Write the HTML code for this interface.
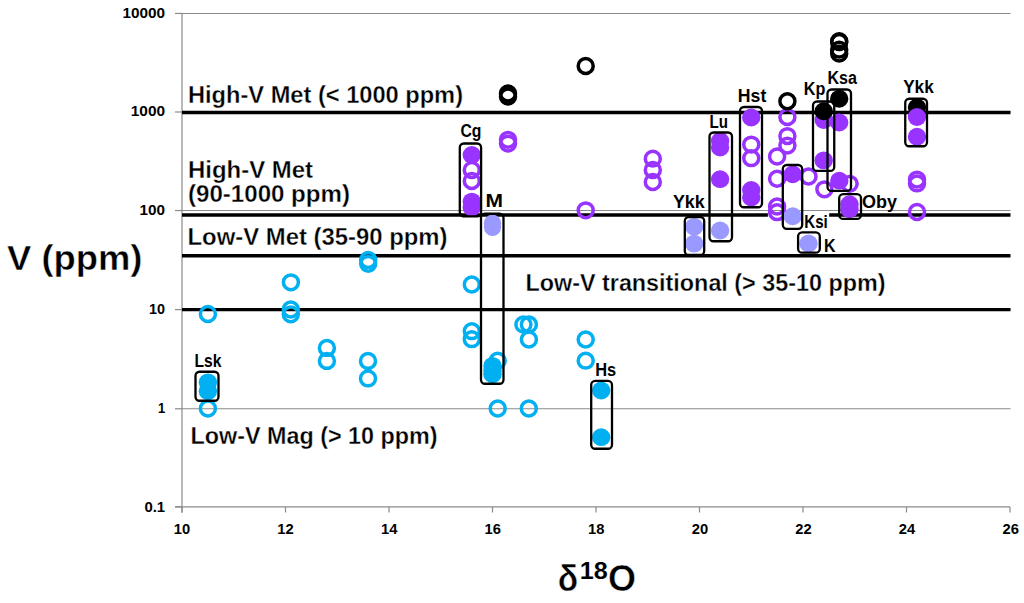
<!DOCTYPE html>
<html><head><meta charset="utf-8"><title>V vs d18O</title>
<style>
html,body{margin:0;padding:0;background:#fff;}
body{width:1024px;height:603px;overflow:hidden;position:relative;font-family:"Liberation Sans",sans-serif;}
</style></head><body>
<svg width="1024" height="603" viewBox="0 0 1024 603" style="position:absolute;left:0;top:0">
<rect width="1024" height="603" fill="#fff"/>
<line x1="182" y1="13.45" x2="1010.5" y2="13.45" stroke="#8a8a8a" stroke-width="1.1"/>
<line x1="182" y1="112.0" x2="1010.5" y2="112.0" stroke="#8a8a8a" stroke-width="1.1"/>
<line x1="182" y1="210.55" x2="1010.5" y2="210.55" stroke="#8a8a8a" stroke-width="1.1"/>
<line x1="182" y1="309.6" x2="1010.5" y2="309.6" stroke="#8a8a8a" stroke-width="1.1"/>
<line x1="182" y1="408.8" x2="1010.5" y2="408.8" stroke="#8a8a8a" stroke-width="1.1"/>
<line x1="182" y1="13" x2="182" y2="512.8" stroke="#8a8a8a" stroke-width="1.2"/>
<line x1="175" y1="506.8" x2="1010" y2="506.8" stroke="#8a8a8a" stroke-width="1.2"/>
<line x1="175" y1="13.45" x2="182" y2="13.45" stroke="#8a8a8a" stroke-width="1.2"/>
<line x1="175" y1="112.0" x2="182" y2="112.0" stroke="#8a8a8a" stroke-width="1.2"/>
<line x1="175" y1="210.55" x2="182" y2="210.55" stroke="#8a8a8a" stroke-width="1.2"/>
<line x1="175" y1="309.6" x2="182" y2="309.6" stroke="#8a8a8a" stroke-width="1.2"/>
<line x1="175" y1="408.8" x2="182" y2="408.8" stroke="#8a8a8a" stroke-width="1.2"/>
<line x1="175" y1="506.8" x2="182" y2="506.8" stroke="#8a8a8a" stroke-width="1.2"/>
<line x1="182.0" y1="507" x2="182.0" y2="512.5" stroke="#8a8a8a" stroke-width="1.2"/>
<line x1="285.5" y1="507" x2="285.5" y2="512.5" stroke="#8a8a8a" stroke-width="1.2"/>
<line x1="389.0" y1="507" x2="389.0" y2="512.5" stroke="#8a8a8a" stroke-width="1.2"/>
<line x1="492.5" y1="507" x2="492.5" y2="512.5" stroke="#8a8a8a" stroke-width="1.2"/>
<line x1="596.0" y1="507" x2="596.0" y2="512.5" stroke="#8a8a8a" stroke-width="1.2"/>
<line x1="699.5" y1="507" x2="699.5" y2="512.5" stroke="#8a8a8a" stroke-width="1.2"/>
<line x1="803.0" y1="507" x2="803.0" y2="512.5" stroke="#8a8a8a" stroke-width="1.2"/>
<line x1="906.5" y1="507" x2="906.5" y2="512.5" stroke="#8a8a8a" stroke-width="1.2"/>
<line x1="1010.0" y1="507" x2="1010.0" y2="512.5" stroke="#8a8a8a" stroke-width="1.2"/>
<line x1="182" y1="112.5" x2="1010.5" y2="112.5" stroke="#000" stroke-width="3.4"/>
<line x1="182" y1="255.7" x2="1010.5" y2="255.7" stroke="#000" stroke-width="3.4"/>
<line x1="182" y1="309.6" x2="1010.5" y2="309.6" stroke="#000" stroke-width="3.4"/>
<line x1="182" y1="215" x2="767.9" y2="215" stroke="#000" stroke-width="3.4"/>
<line x1="829.2" y1="215" x2="1010.5" y2="215" stroke="#000" stroke-width="3.4"/>
<ellipse cx="207.9" cy="314" rx="7.5" ry="7.4" fill="none" stroke="#00b0f0" stroke-width="3.5"/>
<ellipse cx="207.9" cy="408.5" rx="7.5" ry="7.4" fill="none" stroke="#00b0f0" stroke-width="3.5"/>
<ellipse cx="290.9" cy="282.3" rx="7.5" ry="7.4" fill="none" stroke="#00b0f0" stroke-width="3.5"/>
<ellipse cx="290.8" cy="309.5" rx="7.5" ry="7.4" fill="none" stroke="#00b0f0" stroke-width="3.5"/>
<ellipse cx="290.8" cy="314.3" rx="7.5" ry="7.4" fill="none" stroke="#00b0f0" stroke-width="3.5"/>
<ellipse cx="326.9" cy="347.9" rx="7.5" ry="7.4" fill="none" stroke="#00b0f0" stroke-width="3.5"/>
<ellipse cx="326.9" cy="360.9" rx="7.5" ry="7.4" fill="none" stroke="#00b0f0" stroke-width="3.5"/>
<ellipse cx="368.2" cy="260" rx="7.5" ry="7.4" fill="none" stroke="#00b0f0" stroke-width="3.5"/>
<ellipse cx="368.2" cy="263.8" rx="7.5" ry="7.4" fill="none" stroke="#00b0f0" stroke-width="3.5"/>
<ellipse cx="368.0" cy="360.9" rx="7.5" ry="7.4" fill="none" stroke="#00b0f0" stroke-width="3.5"/>
<ellipse cx="368.0" cy="378.4" rx="7.5" ry="7.4" fill="none" stroke="#00b0f0" stroke-width="3.5"/>
<ellipse cx="471.8" cy="284.5" rx="7.5" ry="7.4" fill="none" stroke="#00b0f0" stroke-width="3.5"/>
<ellipse cx="471.8" cy="331.2" rx="7.5" ry="7.4" fill="none" stroke="#00b0f0" stroke-width="3.5"/>
<ellipse cx="471.8" cy="339.2" rx="7.5" ry="7.4" fill="none" stroke="#00b0f0" stroke-width="3.5"/>
<ellipse cx="497.7" cy="360.7" rx="7.5" ry="7.4" fill="none" stroke="#00b0f0" stroke-width="3.5"/>
<ellipse cx="497.7" cy="408.5" rx="7.5" ry="7.4" fill="none" stroke="#00b0f0" stroke-width="3.5"/>
<ellipse cx="523.4" cy="324.5" rx="7.5" ry="7.4" fill="none" stroke="#00b0f0" stroke-width="3.5"/>
<ellipse cx="528.9" cy="324.5" rx="7.5" ry="7.4" fill="none" stroke="#00b0f0" stroke-width="3.5"/>
<ellipse cx="528.9" cy="339.5" rx="7.5" ry="7.4" fill="none" stroke="#00b0f0" stroke-width="3.5"/>
<ellipse cx="528.8" cy="408.5" rx="7.5" ry="7.4" fill="none" stroke="#00b0f0" stroke-width="3.5"/>
<ellipse cx="585.7" cy="339.5" rx="7.5" ry="7.4" fill="none" stroke="#00b0f0" stroke-width="3.5"/>
<ellipse cx="585.7" cy="360.7" rx="7.5" ry="7.4" fill="none" stroke="#00b0f0" stroke-width="3.5"/>
<ellipse cx="207.9" cy="382.3" rx="9.2" ry="8.9" fill="#00b0f0"/>
<ellipse cx="207.9" cy="391.3" rx="9.2" ry="8.9" fill="#00b0f0"/>
<ellipse cx="492.5" cy="365.8" rx="9.2" ry="8.9" fill="#00b0f0"/>
<ellipse cx="492.5" cy="370.4" rx="9.2" ry="8.9" fill="#00b0f0"/>
<ellipse cx="492.5" cy="374.3" rx="9.2" ry="8.9" fill="#00b0f0"/>
<ellipse cx="601.2" cy="390.5" rx="9.2" ry="8.9" fill="#00b0f0"/>
<ellipse cx="601.2" cy="437.2" rx="9.2" ry="8.9" fill="#00b0f0"/>
<ellipse cx="471.8" cy="155" rx="9.2" ry="8.9" fill="#9933ff"/>
<ellipse cx="471.8" cy="201.6" rx="9.2" ry="8.9" fill="#9933ff"/>
<ellipse cx="471.8" cy="207.4" rx="9.2" ry="8.9" fill="#9933ff"/>
<ellipse cx="720.1" cy="141" rx="9.2" ry="8.9" fill="#9933ff"/>
<ellipse cx="720.1" cy="147.5" rx="9.2" ry="8.9" fill="#9933ff"/>
<ellipse cx="720.1" cy="179.2" rx="9.2" ry="8.9" fill="#9933ff"/>
<ellipse cx="751.25" cy="117.5" rx="9.2" ry="8.9" fill="#9933ff"/>
<ellipse cx="751.25" cy="190" rx="9.2" ry="8.9" fill="#9933ff"/>
<ellipse cx="751.25" cy="197.5" rx="9.2" ry="8.9" fill="#9933ff"/>
<ellipse cx="792.7" cy="174.3" rx="9.2" ry="8.9" fill="#9933ff"/>
<ellipse cx="823.7" cy="120" rx="9.2" ry="8.9" fill="#9933ff"/>
<ellipse cx="823.7" cy="160.4" rx="9.2" ry="8.9" fill="#9933ff"/>
<ellipse cx="839.2" cy="122.5" rx="9.2" ry="8.9" fill="#9933ff"/>
<ellipse cx="839.3" cy="180.7" rx="9.2" ry="8.9" fill="#9933ff"/>
<ellipse cx="849.5" cy="204.2" rx="9.2" ry="8.9" fill="#9933ff"/>
<ellipse cx="849.5" cy="209.2" rx="9.2" ry="8.9" fill="#9933ff"/>
<ellipse cx="508" cy="139.8" rx="7.5" ry="7.4" fill="none" stroke="#9933ff" stroke-width="3.5"/>
<ellipse cx="508" cy="143.6" rx="7.5" ry="7.4" fill="none" stroke="#9933ff" stroke-width="3.5"/>
<ellipse cx="585.7" cy="210.3" rx="7.5" ry="7.4" fill="none" stroke="#9933ff" stroke-width="3.5"/>
<ellipse cx="652.8" cy="158.7" rx="7.5" ry="7.4" fill="none" stroke="#9933ff" stroke-width="3.5"/>
<ellipse cx="652.8" cy="170" rx="7.5" ry="7.4" fill="none" stroke="#9933ff" stroke-width="3.5"/>
<ellipse cx="652.8" cy="182" rx="7.5" ry="7.4" fill="none" stroke="#9933ff" stroke-width="3.5"/>
<ellipse cx="751.25" cy="144.6" rx="7.5" ry="7.4" fill="none" stroke="#9933ff" stroke-width="3.5"/>
<ellipse cx="751.25" cy="158.2" rx="7.5" ry="7.4" fill="none" stroke="#9933ff" stroke-width="3.5"/>
<ellipse cx="777.1" cy="156.5" rx="7.5" ry="7.4" fill="none" stroke="#9933ff" stroke-width="3.5"/>
<ellipse cx="777.1" cy="178.75" rx="7.5" ry="7.4" fill="none" stroke="#9933ff" stroke-width="3.5"/>
<ellipse cx="777.1" cy="206.5" rx="7.5" ry="7.4" fill="none" stroke="#9933ff" stroke-width="3.5"/>
<ellipse cx="777.1" cy="212.2" rx="7.5" ry="7.4" fill="none" stroke="#9933ff" stroke-width="3.5"/>
<ellipse cx="787.4" cy="117" rx="7.5" ry="7.4" fill="none" stroke="#9933ff" stroke-width="3.5"/>
<ellipse cx="787.4" cy="136.1" rx="7.5" ry="7.4" fill="none" stroke="#9933ff" stroke-width="3.5"/>
<ellipse cx="787.4" cy="145.6" rx="7.5" ry="7.4" fill="none" stroke="#9933ff" stroke-width="3.5"/>
<ellipse cx="808.5" cy="176.5" rx="7.5" ry="7.4" fill="none" stroke="#9933ff" stroke-width="3.5"/>
<ellipse cx="824.4" cy="189.3" rx="7.5" ry="7.4" fill="none" stroke="#9933ff" stroke-width="3.5"/>
<ellipse cx="849.6" cy="183.8" rx="7.5" ry="7.4" fill="none" stroke="#9933ff" stroke-width="3.5"/>
<ellipse cx="917.0" cy="179.6" rx="7.5" ry="7.4" fill="none" stroke="#9933ff" stroke-width="3.5"/>
<ellipse cx="917.0" cy="183.4" rx="7.5" ry="7.4" fill="none" stroke="#9933ff" stroke-width="3.5"/>
<ellipse cx="917.0" cy="212" rx="7.5" ry="7.4" fill="none" stroke="#9933ff" stroke-width="3.5"/>
<ellipse cx="471.8" cy="170" rx="7.5" ry="7.4" fill="none" stroke="#9933ff" stroke-width="3.5"/>
<ellipse cx="471.8" cy="181" rx="7.5" ry="7.4" fill="none" stroke="#9933ff" stroke-width="3.5"/>
<ellipse cx="492.5" cy="223.3" rx="8.6" ry="8.9" fill="#9999ff"/>
<ellipse cx="492.5" cy="227.2" rx="8.6" ry="8.9" fill="#9999ff"/>
<ellipse cx="694.2" cy="226.8" rx="9.2" ry="8.9" fill="#9999ff"/>
<ellipse cx="694.2" cy="243.6" rx="9.2" ry="8.9" fill="#9999ff"/>
<ellipse cx="720.1" cy="230.5" rx="9.2" ry="8.9" fill="#9999ff"/>
<ellipse cx="792.7" cy="216.25" rx="9.2" ry="8.9" fill="#9999ff"/>
<ellipse cx="808.5" cy="243.5" rx="9.2" ry="8.9" fill="#9999ff"/>
<ellipse cx="508" cy="93.5" rx="7.5" ry="7.4" fill="none" stroke="#000" stroke-width="3.5"/>
<ellipse cx="508" cy="96.5" rx="7.5" ry="7.4" fill="none" stroke="#000" stroke-width="3.5"/>
<ellipse cx="585.7" cy="66" rx="7.5" ry="7.4" fill="none" stroke="#000" stroke-width="3.5"/>
<ellipse cx="787.4" cy="101.25" rx="7.5" ry="7.4" fill="none" stroke="#000" stroke-width="3.5"/>
<ellipse cx="839.2" cy="41.2" rx="7.5" ry="7.4" fill="none" stroke="#000" stroke-width="3.5"/>
<ellipse cx="839.2" cy="42.0" rx="7.5" ry="7.4" fill="none" stroke="#000" stroke-width="3.5"/>
<ellipse cx="839.2" cy="49.7" rx="7.5" ry="7.4" fill="none" stroke="#000" stroke-width="3.5"/>
<ellipse cx="839.2" cy="53.6" rx="7.5" ry="7.4" fill="none" stroke="#000" stroke-width="3.5"/>
<ellipse cx="839.2" cy="98.75" rx="9.2" ry="8.9" fill="#000"/>
<ellipse cx="823.7" cy="111.25" rx="9.2" ry="8.9" fill="#000"/>
<ellipse cx="917.0" cy="107.5" rx="9.2" ry="8.9" fill="#000"/>
<ellipse cx="917.0" cy="117" rx="9.2" ry="8.9" fill="#9933ff"/>
<ellipse cx="917.0" cy="136.75" rx="9.2" ry="8.9" fill="#9933ff"/>
<rect x="195.5" y="371.75" width="23.0" height="29.0" rx="4" ry="4" fill="none" stroke="#000" stroke-width="2.3"/>
<rect x="459.8" y="143.5" width="21.30000000000001" height="72.80000000000001" rx="4" ry="4" fill="none" stroke="#000" stroke-width="2.3"/>
<rect x="481" y="213.75" width="22.5" height="170.0" rx="4" ry="4" fill="none" stroke="#000" stroke-width="2.3"/>
<rect x="591.2" y="380.9" width="20.799999999999955" height="67.85000000000002" rx="4" ry="4" fill="none" stroke="#000" stroke-width="2.3"/>
<rect x="684.8" y="217" width="19.40000000000009" height="38" rx="4" ry="4" fill="none" stroke="#000" stroke-width="2.3"/>
<rect x="709.5" y="132.5" width="22.5" height="108.75" rx="4" ry="4" fill="none" stroke="#000" stroke-width="2.3"/>
<rect x="740" y="107" width="22" height="100.25" rx="4" ry="4" fill="none" stroke="#000" stroke-width="2.3"/>
<rect x="782.8" y="165" width="19.40000000000009" height="63.80000000000001" rx="4" ry="4" fill="none" stroke="#000" stroke-width="2.3"/>
<rect x="798.1" y="232.3" width="21.699999999999932" height="20.399999999999977" rx="4" ry="4" fill="none" stroke="#000" stroke-width="2.3"/>
<rect x="813" y="101.5" width="21.25" height="69.4" rx="4" ry="4" fill="none" stroke="#000" stroke-width="2.3"/>
<rect x="827.5" y="89.5" width="23.5" height="101.4" rx="4" ry="4" fill="none" stroke="#000" stroke-width="2.3"/>
<rect x="839.2" y="194.1" width="21.799999999999955" height="24.80000000000001" rx="4" ry="4" fill="none" stroke="#000" stroke-width="2.3"/>
<rect x="905.25" y="98.75" width="21.75" height="47.5" rx="4" ry="4" fill="none" stroke="#000" stroke-width="2.3"/>
<g font-family="Liberation Sans, sans-serif" fill="#000">
<text x="122.5" y="18.4" font-size="14.5" font-weight="bold" text-anchor="start" textLength="42.6" lengthAdjust="spacingAndGlyphs" stroke="#fff" stroke-width="0.0">10000</text>
<text x="130.8" y="116.3" font-size="14.5" font-weight="bold" text-anchor="start" textLength="34.3" lengthAdjust="spacingAndGlyphs" stroke="#fff" stroke-width="0.0">1000</text>
<text x="139.6" y="215.4" font-size="14.5" font-weight="bold" text-anchor="start" textLength="25.5" lengthAdjust="spacingAndGlyphs" stroke="#fff" stroke-width="0.0">100</text>
<text x="149.1" y="314.4" font-size="14.5" font-weight="bold" text-anchor="start" textLength="16" lengthAdjust="spacingAndGlyphs" stroke="#fff" stroke-width="0.0">10</text>
<text x="157.9" y="412.5" font-size="14.5" font-weight="bold" text-anchor="start" textLength="7.2" lengthAdjust="spacingAndGlyphs" stroke="#fff" stroke-width="0.0">1</text>
<text x="144.4" y="511.5" font-size="14.5" font-weight="bold" text-anchor="start" textLength="20.7" lengthAdjust="spacingAndGlyphs" stroke="#fff" stroke-width="0.0">0.1</text>
<text x="173.8" y="534.4" font-size="14.5" font-weight="bold" text-anchor="start" textLength="16.4" lengthAdjust="spacingAndGlyphs" stroke="#fff" stroke-width="0.0">10</text>
<text x="277.38" y="534.4" font-size="14.5" font-weight="bold" text-anchor="start" textLength="16.4" lengthAdjust="spacingAndGlyphs" stroke="#fff" stroke-width="0.0">12</text>
<text x="380.96000000000004" y="534.4" font-size="14.5" font-weight="bold" text-anchor="start" textLength="16.4" lengthAdjust="spacingAndGlyphs" stroke="#fff" stroke-width="0.0">14</text>
<text x="484.54" y="534.4" font-size="14.5" font-weight="bold" text-anchor="start" textLength="16.4" lengthAdjust="spacingAndGlyphs" stroke="#fff" stroke-width="0.0">16</text>
<text x="588.12" y="534.4" font-size="14.5" font-weight="bold" text-anchor="start" textLength="16.4" lengthAdjust="spacingAndGlyphs" stroke="#fff" stroke-width="0.0">18</text>
<text x="691.6999999999999" y="534.4" font-size="14.5" font-weight="bold" text-anchor="start" textLength="16.4" lengthAdjust="spacingAndGlyphs" stroke="#fff" stroke-width="0.0">20</text>
<text x="795.28" y="534.4" font-size="14.5" font-weight="bold" text-anchor="start" textLength="16.4" lengthAdjust="spacingAndGlyphs" stroke="#fff" stroke-width="0.0">22</text>
<text x="898.8599999999999" y="534.4" font-size="14.5" font-weight="bold" text-anchor="start" textLength="16.4" lengthAdjust="spacingAndGlyphs" stroke="#fff" stroke-width="0.0">24</text>
<text x="1002.4399999999999" y="534.4" font-size="14.5" font-weight="bold" text-anchor="start" textLength="16.4" lengthAdjust="spacingAndGlyphs" stroke="#fff" stroke-width="0.0">26</text>
<text x="188" y="102.5" font-size="23.8" font-weight="bold" text-anchor="start" textLength="275" lengthAdjust="spacingAndGlyphs" stroke="#fff" stroke-width="0.33">High-V Met (&lt; 1000 ppm)</text>
<text x="188" y="177.5" font-size="23.8" font-weight="bold" text-anchor="start" textLength="125" lengthAdjust="spacingAndGlyphs" stroke="#fff" stroke-width="0.33">High-V Met</text>
<text x="188" y="202" font-size="23.8" font-weight="bold" text-anchor="start" textLength="162" lengthAdjust="spacingAndGlyphs" stroke="#fff" stroke-width="0.33">(90-1000 ppm)</text>
<text x="187.5" y="245" font-size="23.8" font-weight="bold" text-anchor="start" textLength="260" lengthAdjust="spacingAndGlyphs" stroke="#fff" stroke-width="0.33">Low-V Met (35-90 ppm)</text>
<text x="525.5" y="291" font-size="23.8" font-weight="bold" text-anchor="start" textLength="360" lengthAdjust="spacingAndGlyphs" stroke="#fff" stroke-width="0.33">Low-V transitional (&gt; 35-10 ppm)</text>
<text x="190.5" y="443.7" font-size="23.8" font-weight="bold" text-anchor="start" textLength="247" lengthAdjust="spacingAndGlyphs" stroke="#fff" stroke-width="0.33">Low-V Mag (&gt; 10 ppm)</text>
<text x="194.4" y="367.3" font-size="18.3" font-weight="bold" text-anchor="start" textLength="27" lengthAdjust="spacingAndGlyphs" stroke="#fff" stroke-width="0.0">Lsk</text>
<text x="460.5" y="136.6" font-size="18.3" font-weight="bold" text-anchor="start" textLength="21.0" lengthAdjust="spacingAndGlyphs" stroke="#fff" stroke-width="0.0">Cg</text>
<text x="485.5" y="206.6" font-size="18.3" font-weight="bold" text-anchor="start" textLength="17.5" lengthAdjust="spacingAndGlyphs" stroke="#fff" stroke-width="0.0">M</text>
<text x="595.2" y="376.1" font-size="18.3" font-weight="bold" text-anchor="start" textLength="21.0" lengthAdjust="spacingAndGlyphs" stroke="#fff" stroke-width="0.0">Hs</text>
<text x="672.9" y="208.1" font-size="18.3" font-weight="bold" text-anchor="start" textLength="31.8" lengthAdjust="spacingAndGlyphs" stroke="#fff" stroke-width="0.0">Ykk</text>
<text x="709.5" y="127.6" font-size="18.3" font-weight="bold" text-anchor="start" textLength="18.5" lengthAdjust="spacingAndGlyphs" stroke="#fff" stroke-width="0.0">Lu</text>
<text x="737.8" y="101.8" font-size="18.3" font-weight="bold" text-anchor="start" textLength="28.5" lengthAdjust="spacingAndGlyphs" stroke="#fff" stroke-width="0.0">Hst</text>
<text x="803.8" y="95.1" font-size="18.3" font-weight="bold" text-anchor="start" textLength="21.5" lengthAdjust="spacingAndGlyphs" stroke="#fff" stroke-width="0.0">Kp</text>
<text x="827.5" y="84.3" font-size="18.3" font-weight="bold" text-anchor="start" textLength="29.5" lengthAdjust="spacingAndGlyphs" stroke="#fff" stroke-width="0.0">Ksa</text>
<text x="903.2" y="92.6" font-size="18.3" font-weight="bold" text-anchor="start" textLength="30.5" lengthAdjust="spacingAndGlyphs" stroke="#fff" stroke-width="0.0">Ykk</text>
<text x="804.2" y="227.5" font-size="18.3" font-weight="bold" text-anchor="start" textLength="23.6" lengthAdjust="spacingAndGlyphs" stroke="#fff" stroke-width="0.0">Ksi</text>
<text x="823.9" y="251.8" font-size="18.3" font-weight="bold" text-anchor="start" textLength="11.6" lengthAdjust="spacingAndGlyphs" stroke="#fff" stroke-width="0.0">K</text>
<text x="862" y="207.6" font-size="18.3" font-weight="bold" text-anchor="start" textLength="35" lengthAdjust="spacingAndGlyphs" stroke="#fff" stroke-width="0.0">Oby</text>
<text x="7" y="270.2" font-size="35.6" font-weight="bold" text-anchor="start" textLength="135.5" lengthAdjust="spacingAndGlyphs" stroke="#fff" stroke-width="0.46">V (ppm)</text>
<text x="557.7" y="591.1" font-size="37.5" font-weight="bold" text-anchor="start" textLength="20.4" lengthAdjust="spacingAndGlyphs" stroke="#fff" stroke-width="0.49">δ</text>
<text x="579.8" y="579.3" font-size="24.6" font-weight="bold" text-anchor="start" textLength="28" lengthAdjust="spacingAndGlyphs" stroke="#fff" stroke-width="0.07">18</text>
<text x="608.1" y="591.2" font-size="37.5" font-weight="bold" text-anchor="start" textLength="28" lengthAdjust="spacingAndGlyphs" stroke="#fff" stroke-width="0.49">O</text>
</g>
</svg>
</body></html>
